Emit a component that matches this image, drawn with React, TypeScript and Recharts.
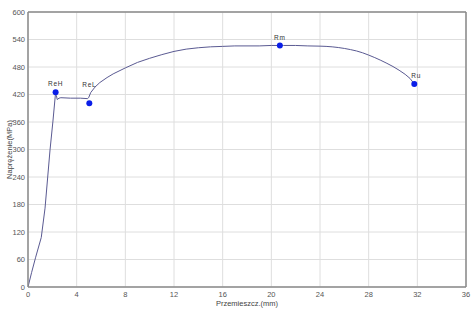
import {
  ComposedChart,
  Line,
  Scatter,
  XAxis,
  YAxis,
  CartesianGrid,
  ReferenceLine,
} from 'recharts';

// tensile test curve: displacement (mm) vs stress (MPa)
const curveX = [
  0, 0.3, 0.63, 1.09, 1.4, 1.81, 2.05, 2.27, 2.33, 2.4, 2.55, 2.7, 3.5, 4.3, 4.9, 5.0, 5.15,
  5.5, 5.9, 6.5, 7, 8, 9, 10, 11, 12, 13, 14, 15, 16, 17, 18, 19, 20, 21, 22, 23, 24, 24.5, 25,
  25.5, 26, 26.5, 27, 27.5, 28, 28.5, 29, 29.5, 30, 30.5, 31, 31.4, 31.75,
];
const curveY = [
  0, 32, 65, 108, 172, 299, 362, 425, 418, 409, 412, 413, 412, 412, 411, 414, 424,
  436, 446, 457, 465, 478, 490, 499, 507, 514, 519, 522, 524, 525, 526, 526, 526, 527, 527, 527, 526, 525.5, 525, 524,
  522.5, 520.5, 518, 515, 511, 506, 500.5, 494.5, 488, 481, 473, 464, 455, 443,
];

const markerNames = ['ReH', 'ReL', 'Rm', 'Ru'];
const markerX = [2.27, 5.04, 20.7, 31.75];
const markerY = [425, 401, 527, 443];

const xTicks = [0, 4, 8, 12, 16, 20, 24, 28, 32, 36];
const yTicks = [0, 60, 120, 180, 240, 300, 360, 420, 480, 540, 600];

const curve = curveX.map((x, i) => ({ x, y: curveY[i] }));
const markers = markerNames.map((name, i) => ({ name, x: markerX[i], y: markerY[i] }));

const FONT = '"Liberation Sans", Arial, sans-serif';
const FRAME = '#8a8a8a';

// how far above the dot each label sits
const labelLift: Record<string, number> = { ReH: 6, ReL: 16, Rm: 5, Ru: 6 };

function MarkerShape(props: any) {
  const { cx, cy, payload } = props;
  const lift = labelLift[payload.name] ?? 6;
  return (
    <g>
      <circle cx={cx} cy={cy} r={3} fill="#0a1ee8" />
      <text
        x={cx + (payload.name === 'Ru' ? 2 : 0)}
        y={cy - lift}
        textAnchor="middle"
        fontSize={6.5}
        letterSpacing={0.8}
        fontFamily={FONT}
        fill="#333"
      >
        {payload.name}
      </text>
    </g>
  );
}

function YLabel(props: any) {
  const { viewBox } = props;
  const cy = viewBox.y + viewBox.height / 2;
  return (
    <g transform={`translate(12 ${cy}) rotate(-90)`}>
      <text x={0} y={0} textAnchor="middle" fontSize={7.5} fontFamily={FONT} fill="#444">
        Naprężenie(MPa)
      </text>
    </g>
  );
}

function XLabel(props: any) {
  const { viewBox } = props;
  return (
    <text
      x={viewBox.x + viewBox.width / 2}
      y={306}
      textAnchor="middle"
      fontSize={7.5}
      fontFamily={FONT}
      fill="#444"
    >
      Przemieszcz.(mm)
    </text>
  );
}

export default function App() {
  return (
    <div style={{ position: 'absolute', left: 0, top: 0, background: '#fff' }}>
      <ComposedChart
        width={474}
        height={313}
        margin={{ top: 12, right: 8, bottom: 0, left: 0 }}
      >
        <CartesianGrid stroke="#dedede" strokeWidth={1} />
        <XAxis
          type="number"
          dataKey="x"
          domain={[0, 36]}
          ticks={xTicks}
          height={26}
          tickLine={false}
          tickSize={3}
          tickMargin={2}
          axisLine={{ stroke: FRAME, strokeWidth: 1.5 }}
          tick={{ fill: '#555', fontSize: 7.5, fontFamily: FONT }}
          label={<XLabel />}
          allowDataOverflow
        />
        <YAxis
          type="number"
          domain={[0, 600]}
          ticks={yTicks}
          width={28}
          tickLine={false}
          tickSize={1}
          tickMargin={2}
          axisLine={{ stroke: FRAME, strokeWidth: 1.5 }}
          tick={{ fill: '#555', fontSize: 7.5, fontFamily: FONT }}
          label={<YLabel />}
          allowDataOverflow
        />
        <ReferenceLine y={600} stroke={FRAME} strokeWidth={1.5} />
        <ReferenceLine x={36} stroke={FRAME} strokeWidth={1.5} />
        <Line
          data={curve}
          dataKey="y"
          type="linear"
          stroke="#5a5a92"
          strokeWidth={1}
          dot={false}
          isAnimationActive={false}
        />
        <Scatter
          data={markers}
          dataKey="y"
          shape={<MarkerShape />}
          isAnimationActive={false}
        />
      </ComposedChart>
    </div>
  );
}
